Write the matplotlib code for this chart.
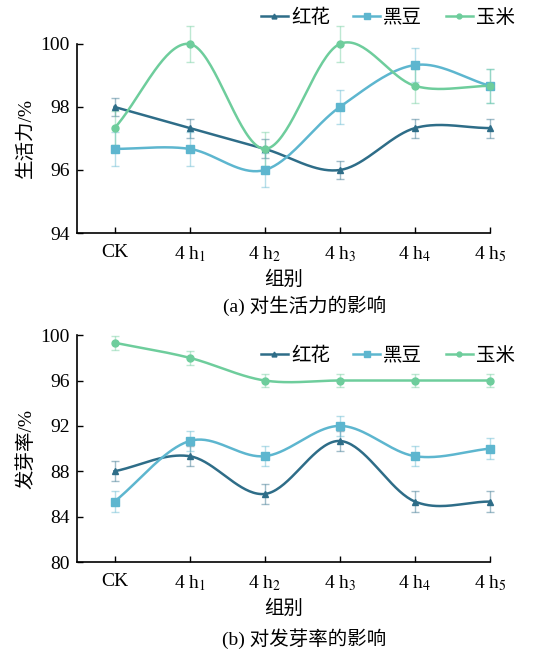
import numpy as np
import matplotlib.pyplot as plt

plt.rcParams['font.family'] = ['Liberation Serif', 'Noto Sans CJK SC']
plt.rcParams['mathtext.fontset'] = 'stix'
plt.rcParams['axes.unicode_minus'] = False

# Data
groups = ['CK', r'4 h$_1$', r'4 h$_2$', r'4 h$_3$', r'4 h$_4$', r'4 h$_5$']
series_names = ['红花', '黑豆', '玉米']

vigor_honghua = [98.0, 97.33, 96.67, 96.0, 97.33, 97.33]
vigor_heidou = [96.67, 96.67, 96.0, 98.0, 99.33, 98.67]
vigor_yumi = [97.33, 100.0, 96.67, 100.0, 98.67, 98.67]
vigor_err_honghua = [0.3, 0.3, 0.3, 0.3, 0.3, 0.3]
vigor_err_heidou = [0.55, 0.55, 0.55, 0.55, 0.55, 0.55]
vigor_err_yumi = [0.55, 0.57, 0.55, 0.57, 0.55, 0.55]

germ_honghua = [88.0, 89.33, 86.0, 90.67, 85.33, 85.33]
germ_heidou = [85.33, 90.67, 89.33, 92.0, 89.33, 90.0]
germ_yumi = [99.33, 98.0, 96.0, 96.0, 96.0, 96.0]
germ_err_honghua = [0.9, 0.9, 0.9, 0.9, 0.9, 0.9]
germ_err_heidou = [0.9, 0.9, 0.9, 0.9, 0.9, 0.9]
germ_err_yumi = [0.6, 0.6, 0.6, 0.6, 0.6, 0.6]

colors = ['#2e6d88', '#5db6cf', '#6ecd9c']
markers = ['^', 's', 'o']
msizes = [5, 6, 5]


def smooth_line(x, y, n=40):
    # Catmull-Rom style curve through the points (only for drawing the line)
    x = np.asarray(x, float)
    y = np.asarray(y, float)
    k = len(x)
    m = np.zeros(k)
    m[1:-1] = (y[2:] - y[:-2]) / (x[2:] - x[:-2])
    m[0] = (y[1] - y[0]) / (x[1] - x[0])
    m[-1] = (y[-1] - y[-2]) / (x[-1] - x[-2])
    xs_all, ys_all = [], []
    for i in range(k - 1):
        h = x[i + 1] - x[i]
        t = np.linspace(0, 1, n)
        h00 = 2 * t**3 - 3 * t**2 + 1
        h10 = t**3 - 2 * t**2 + t
        h01 = -2 * t**3 + 3 * t**2
        h11 = t**3 - t**2
        xs_all.append(x[i] + t * h)
        ys_all.append(h00 * y[i] + h10 * h * m[i] + h01 * y[i + 1] + h11 * h * m[i + 1])
    return np.concatenate(xs_all), np.concatenate(ys_all)


def draw_panel(ax, values, errors, ylim, yticks, ylabel, caption, cap_y, legend_y):
    x = np.arange(len(groups))
    for vals, errs, col, mk, ms, name in zip(values, errors, colors, markers, msizes, series_names):
        ax.errorbar(x, vals, yerr=errs, fmt='none', ecolor=col, alpha=0.45,
                    elinewidth=1.0, capsize=3, clip_on=False, zorder=2)
        xs, ys = smooth_line(x, vals)
        ax.plot(xs, ys, color=col, lw=1.8, zorder=3, clip_on=False)
        ax.plot(x, vals, linestyle='none', marker=mk, ms=ms, color=col, zorder=4, clip_on=False)
        ax.plot([], [], color=col, lw=1.8, marker=mk, ms=ms - 1.5, label=name)
    ax.set_xlim(-0.5, 5)
    ax.set_ylim(*ylim)
    ax.set_yticks(yticks)
    ax.set_xticks(x)
    ax.set_xticklabels(groups)
    ax.tick_params(direction='in', length=4, width=1, labelsize=14)
    ax.tick_params(axis='x', pad=8)
    ax.tick_params(axis='y', pad=5)
    for s in ['top', 'right']:
        ax.spines[s].set_visible(False)
    for s in ['left', 'bottom']:
        ax.spines[s].set_linewidth(1.2)
    ax.set_ylabel(ylabel, fontsize=14, labelpad=4)
    ax.set_xlabel('组别', fontsize=14, labelpad=5)
    ax.text(0.55, cap_y, caption, transform=ax.transAxes, ha='center', va='top', fontsize=14)
    ax.legend(loc='center right', bbox_to_anchor=(1.06, legend_y), ncol=3, frameon=False,
              fontsize=14, handlelength=1.4, handletextpad=0.15, columnspacing=1.2,
              borderaxespad=0, borderpad=0)


fig = plt.figure(figsize=(5.5, 6.52), dpi=100)
ax1 = fig.add_axes([0.14, 0.6426, 0.751, 0.29])
ax2 = fig.add_axes([0.14, 0.138, 0.751, 0.348])

draw_panel(ax1, [vigor_honghua, vigor_heidou, vigor_yumi],
           [vigor_err_honghua, vigor_err_heidou, vigor_err_yumi],
           (94, 100), [94, 96, 98, 100], '生活力/%', '(a) 对生活力的影响', -0.33, 1.14)
draw_panel(ax2, [germ_honghua, germ_heidou, germ_yumi],
           [germ_err_honghua, germ_err_heidou, germ_err_yumi],
           (80, 100), [80, 84, 88, 92, 96, 100], '发芽率/%', '(b) 对发芽率的影响', -0.29, 0.91)

fig.savefig('out.png', dpi=100)
